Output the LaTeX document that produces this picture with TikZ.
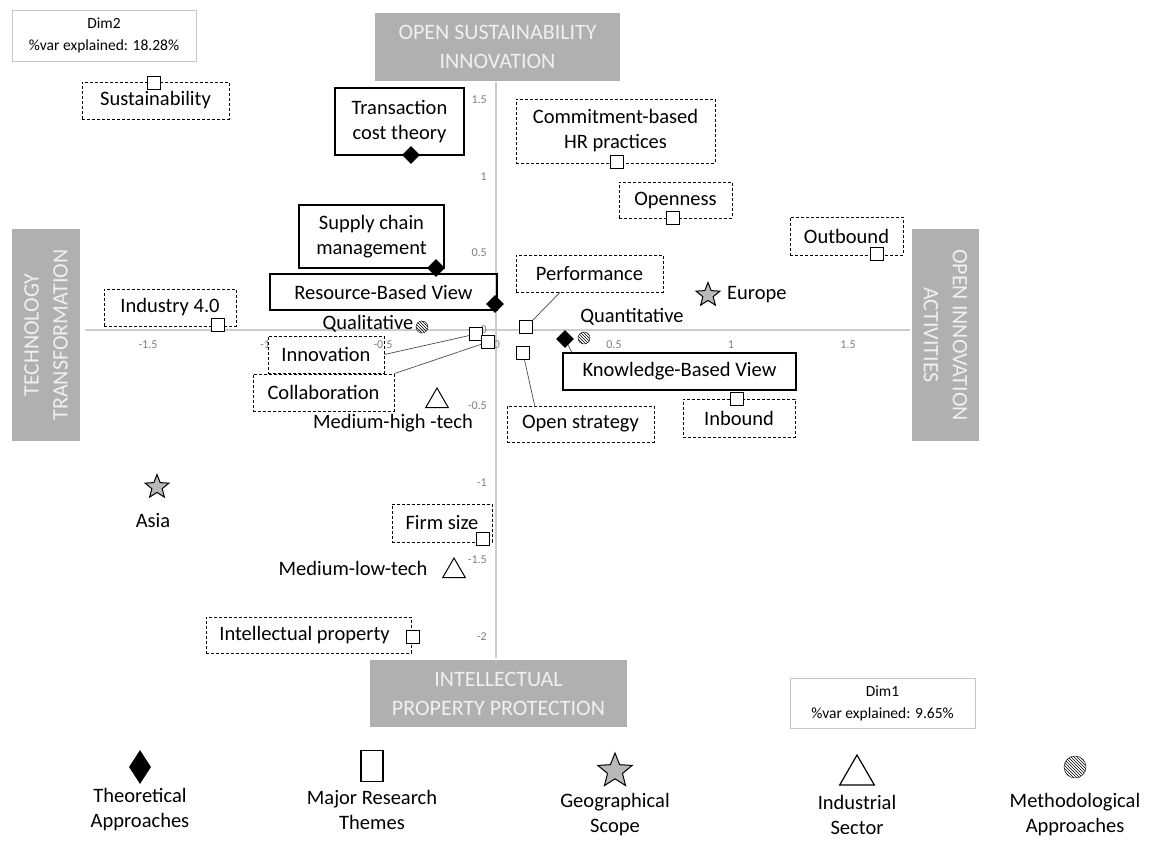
\documentclass[tikz,border=0pt]{standalone}
\usepackage{fontspec}
\setmainfont{Carlito}
\usetikzlibrary{shapes.geometric}
\usetikzlibrary{patterns}
\usetikzlibrary{calc}
\newcommand\lbl{\fontsize{20.5}{25}\selectfont}
\newcommand\bnr{\fontsize{22}{29}\selectfont}
\newcommand\dimf{\fontsize{15.5}{22}\selectfont}
\newcommand\tickf{\fontsize{12}{14}\selectfont}
\tikzset{dbox/.style = {draw, densely dashed, line width=0.9pt, inner sep=0, align=center, font=\lbl}}
\tikzset{sbox/.style = {draw, line width=1.1pt, inner sep=0, align=center, font=\lbl}}
\tikzset{theme/.style = {draw, fill=white, rectangle, line width=1.2pt, minimum size=13pt, inner sep=0}}
\tikzset{theory/.style = {diamond, fill=black, minimum size=18pt, inner sep=0}}
\tikzset{geo/.style = {star, star points=5, star point ratio=2.3, draw, fill=gray!55, line width=1pt, minimum size=25pt, inner sep=0}}
\tikzset{sector/.style = {regular polygon, regular polygon sides=3, draw, fill=white, line width=1pt, minimum size=26pt, inner sep=0}}
\tikzset{method/.style = {circle, draw, pattern=north west lines, minimum size=12pt, inner sep=0}}
\tikzset{banner/.style = {fill=gray!62, text=white!94!black, align=center, font=\bnr, inner sep=0}}
\tikzset{dimbox/.style = {draw=gray!45, line width=1pt, align=center, font=\dimf, inner sep=0}}
\tikzset{tick/.style = {text=gray, font=\tickf, inner sep=0}}
\tikzset{plain/.style = {font=\lbl, inner sep=0, align=center}}
\tikzset{link/.style = {draw=black!70, line width=0.7pt}}

\begin{document}
\begin{tikzpicture}[x=1pt, y=-1pt]
    \fill[white] (0,0) rectangle (1150,841);
    \useasboundingbox (0,0) rectangle (1150,841);

    \draw[gray!40, line width=1.3pt] (85,330) -- (910,330);
    \draw[gray!40, line width=1.3pt] (496,82) -- (496,658);
    \foreach \v/\x in {-1.5/148, -1/265, -0.5/383, 0/497, 0.5/614, 1/731, 1.5/848}
      \node [tick] (xt\x) at (\x,345) {\v};
    \foreach \v/\y in {1.5/100, 1/177, 0.5/253, 0/330, -0.5/406, -1/483, -1.5/560, -2/637}
      \node [tick, anchor=east] (yt\y) at (487,\y) {\v};

    \node [banner, minimum width=245, minimum height=68] (top) at (497.5,47) {OPEN SUSTAINABILITY\\INNOVATION};
    \node [banner, minimum width=212, minimum height=68, rotate=90] (left) at (46,335) {TECHNOLOGY\\TRANSFORMATION};
    \node [banner, minimum width=212, minimum height=67, rotate=-90] (right) at (945.5,335) {OPEN INNOVATION\\ACTIVITIES};
    \node [banner, minimum width=257, minimum height=67] (bottom) at (498.5,693.5) {INTELLECTUAL\\PROPERTY PROTECTION};

    \node [dimbox, minimum width=184, minimum height=51] (dim2) at (104,35.5) {Dim2\\\%var explained: 18.28\%};
    \node [dimbox, minimum width=185, minimum height=50] (dim1) at (882.5,703) {Dim1\\\%var explained: 9.65\%};

    \node [dbox, minimum width=147, minimum height=37] (sust) at (155.5,100.5) {Sustainability};
    \node [theme] (sustm) at (154,83) {};
    \node [sbox, minimum width=129, minimum height=67] (tct) at (399.5,121.5) {Transaction\\cost theory};
    \node [theory] (tctm) at (411,155) {};
    \node [dbox, minimum width=199, minimum height=64] (hrp) at (615.5,131) {Commitment-based\\HR practices};
    \node [theme] (hrpm) at (617,162) {};
    \node [dbox, minimum width=113, minimum height=36] (open) at (675.5,200) {Openness};
    \node [theme] (openm) at (673,218) {};
    \node [sbox, minimum width=145, minimum height=63] (scm) at (371.5,236.5) {Supply chain\\management};
    \node [theory] (scmm) at (436,268) {};
    \node [dbox, minimum width=113, minimum height=38] (outb) at (846.5,236) {Outbound};
    \node [theme] (outbm) at (877,254) {};
    \node [dbox, minimum width=147, minimum height=37] (perf) at (589.5,273.5) {Performance};
    \node [theme] (perfm) at (526,327) {};
    \node [sbox, minimum width=227, minimum height=36] (rbv) at (383.5,292) {Resource-Based View};
    \node [theory] (rbvm) at (495,304) {};
    \node [geo] (eurm) at (708,295) {};
    \node [plain, anchor=west] (eur) at (727,295) {Europe};
    \node [dbox, minimum width=132, minimum height=37] (ind) at (170,307.5) {Industry 4.0};
    \node [theme] (indm) at (218,325) {};
    \node [plain] (qual) at (368,324) {Qualitative};
    \node [method] (qualm) at (422,327) {};
    \node [plain] (quan) at (632,317) {Quantitative};
    \node [method] (quanm) at (584,338) {};
    \node [dbox, minimum width=116, minimum height=37] (innov) at (326,354.5) {Innovation};
    \node [theme] (innovm) at (476,334) {};
    \node [dbox, minimum width=141, minimum height=37] (collab) at (323.5,392.5) {Collaboration};
    \node [theme] (collabm) at (488,342) {};
    \node [theme] (openstm) at (523,353) {};
    \node [dbox, minimum width=147, minimum height=36] (openst) at (580.5,424) {Open strategy};
    \node [theory] (kbvm) at (565,339) {};
    \node [sbox, minimum width=233, minimum height=37] (kbv) at (679.5,371.5) {Knowledge-Based View};
    \node [dbox, minimum width=112, minimum height=38] (inb) at (739,418) {Inbound};
    \node [theme] (inbm) at (737,399) {};
    \node [sector] (mhtm) at (437,401) {};
    \node [plain] (mht) at (393,423) {Medium-high -tech};
    \node [geo] (asiam) at (157,487) {};
    \node [plain] (asia) at (153,521) {Asia};
    \node [dbox, minimum width=100, minimum height=38] (firm) at (442,523) {Firm size};
    \node [theme] (firmm) at (483,539) {};
    \node [plain] (mlt) at (353,568) {Medium-low-tech};
    \node [sector] (mltm) at (454,571) {};
    \node [dbox, minimum width=205, minimum height=36] (ip) at (308.5,635) {Intellectual property\hspace*{8pt}};
    \node [theme] (ipm) at (413,637) {};

    \draw [link] (innov.east) -- (innovm);
    \draw [link] (collab.north east) -- (collabm);
    \draw [link] ($(perf.south west)!.3!(perf.south east)$) -- (perfm);
    \draw [link] (openstm) -- ($(openst.north west)!.19!(openst.north east)$);
    \draw [link] (kbvm) -- ($(kbv.north west)!.04!(kbv.north east)$);

    \node [diamond, fill=black, minimum width=22, minimum height=34, inner sep=0] (lgthe) at (140,767) {};
    \node [plain] (lgthet) at (140,810) {Theoretical\\Approaches};
    \node [draw, line width=1.3pt, minimum width=22, minimum height=31, inner sep=0] (lgthm) at (372,766) {};
    \node [plain] (lgthmt) at (372,810) {Major Research\\Themes};
    \node [geo, minimum size=36] (lggeo) at (615,771) {};
    \node [plain] (lggeot) at (615,815) {Geographical\\Scope};
    \node [sector, minimum size=40, line width=1.2pt] (lgsec) at (857,775) {};
    \node [plain] (lgsect) at (857,815) {Industrial\\Sector};
    \node [method, minimum size=22] (lgmet) at (1075,767) {};
    \node [plain] (lgmett) at (1075,815) {Methodological\\Approaches};
\end{tikzpicture}
\end{document}
